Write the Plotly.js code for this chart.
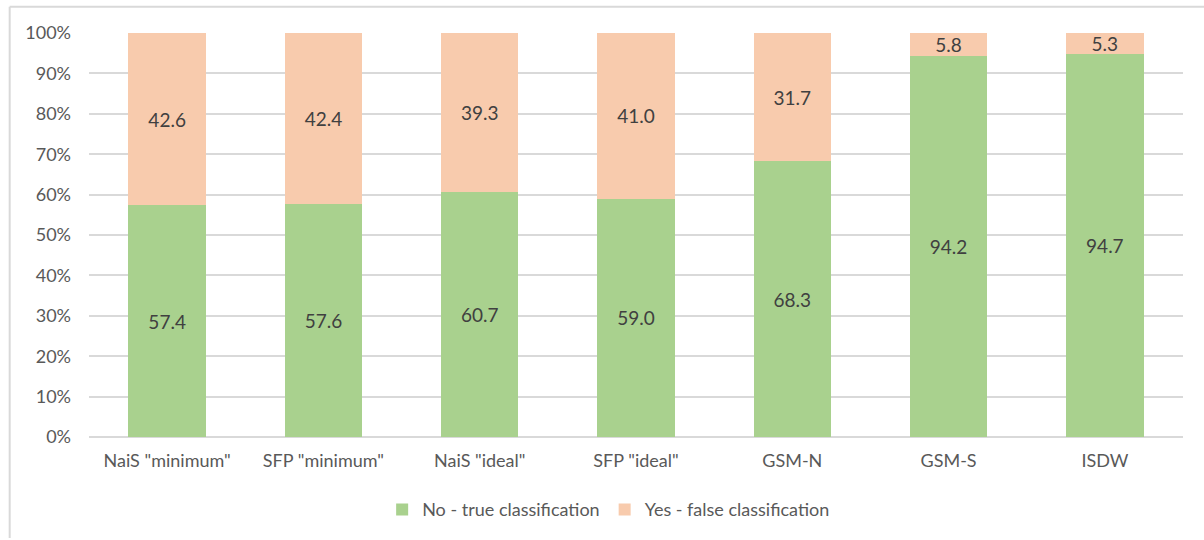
<!DOCTYPE html>
<html><head><meta charset="utf-8">
<script src="https://cdn.plot.ly/plotly-3.0.1.min.js"></script>
<style>html,body{margin:0;padding:0;background:#fff}#c{width:1204px;height:540px}</style>
</head><body><div id="c"></div>
<script>
var categories = ['NaiS "minimum"', 'SFP "minimum"', 'NaiS "ideal"', 'SFP "ideal"', 'GSM-N', 'GSM-S', 'ISDW'];
var trueVals = [57.4, 57.6, 60.7, 59.0, 68.3, 94.2, 94.7];
var falseVals = [42.6, 42.4, 39.3, 41.0, 31.7, 5.8, 5.3];
var seriesNames = ['No - true classification', 'Yes - false classification'];
var yTicks = [0,10,20,30,40,50,60,70,80,90,100];
var yTickText = yTicks.map(function(v){return v+'%';});

var fontFam = 'Lato, "Open Sans", sans-serif';
function mk(vals, name, color){
  return {type:'bar', x:categories, y:vals, name:name,
    marker:{color:color, line:{width:0}},
    text: vals.map(function(v){return v.toFixed(1);}),
    textposition:'inside', insidetextanchor:'middle', textangle:0,
    textfont:{family:fontFam, size:19, color:'#404040'},
    constraintext:'none', hoverinfo:'skip'};
}
var data = [mk(trueVals, seriesNames[0], '#A9D18E'), mk(falseVals, seriesNames[1], '#F8CBAD')];
var layout = {
  width:1204, height:540, barmode:'stack', bargap:0.505,
  margin:{l:89, r:21, t:33, b:101},
  paper_bgcolor:'#fff', plot_bgcolor:'#fff',
  font:{family:fontFam, size:18, color:'#595959'},
  showlegend:true,
  legend:{orientation:'h', x:0.475, xanchor:'center', xref:'paper', y:-0.18, yanchor:'middle',
    font:{family:fontFam, size:18, color:'#595959'}, traceorder:'normal', itemwidth:30, itemsizing:'constant'},
  xaxis:{automargin:false, showgrid:false, showline:false, zeroline:false, ticks:'', tickfont:{size:18, color:'#595959'}, ticklabelstandoff:11},
  yaxis:{automargin:false, range:[0,100], tickvals:yTicks, ticktext:yTickText, showgrid:true, gridcolor:'#D9D9D9', gridwidth:2,
    zeroline:true, zerolinecolor:'#D9D9D9', zerolinewidth:2, ticks:'', ticklabelstandoff:17,
    tickfont:{size:18, color:'#595959'}, fixedrange:true},
  shapes:[
    {type:'line', xref:'paper', yref:'paper', x0:-0.0725, x1:1.03, y0:1.065, y1:1.065, line:{color:'#D9D9D9', width:2}},
    {type:'line', xref:'paper', yref:'paper', x0:-0.0725, x1:-0.0725, y0:1.065, y1:-0.25, line:{color:'#D9D9D9', width:2}}
  ],
  hovermode:false
};
Plotly.newPlot('c', data, layout, {displayModeBar:false, staticPlot:true});
</script></body></html>
